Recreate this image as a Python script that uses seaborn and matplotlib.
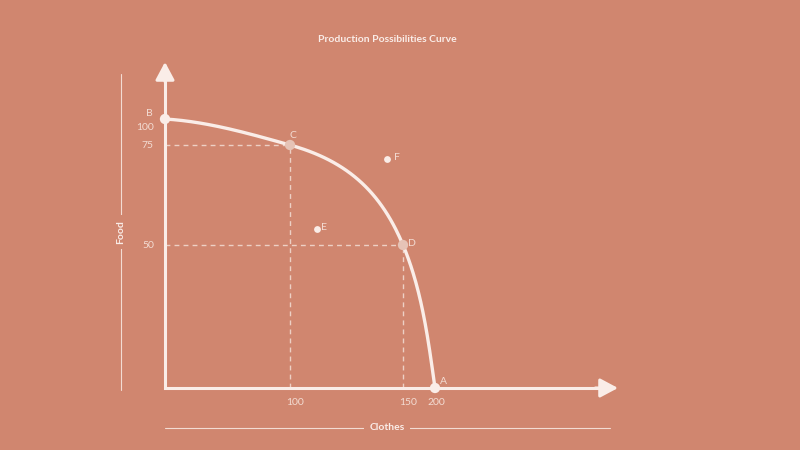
import numpy as np
import pandas as pd
import matplotlib
matplotlib.use("Agg")
import matplotlib.pyplot as plt
from matplotlib.transforms import ScaledTranslation
import seaborn as sns

########## Data ##########

# points on the frontier, from B (all food) to A (all clothes)
curve_names = ["B", "C", "D", "A"]
curve_clothes = [0, 100, 150, 200]
curve_food = [100, 75, 50, 0]

# points off the frontier
extra_names = ["E", "F"]
extra_clothes = [112, 143]
extra_food = [54, 71.5]

x_ticks = [100, 150, 200]
y_ticks = [50, 75, 100]

########## Style ##########

BG = "#D0866F"
INK = "#FAEDE8"
SOFT = "#F3DCD3"
DASH = "#EDD0C5"
MUTED = "#E6C3B6"
FONT = ["Lato", "DejaVu Sans"]

# schematic (non linear) axes: data value -> pixels along the axis
X_KNOTS = [0, 100, 150, 200, 260]
X_PX = [0, 125, 238, 270, 453]
Y_KNOTS = [0, 50, 75, 100, 125]
Y_PX = [0, 143, 243, 269, 326]

def x_fwd(v):
    return np.interp(v, X_KNOTS, X_PX)
def x_inv(v):
    return np.interp(v, X_PX, X_KNOTS)
def y_fwd(v):
    return np.interp(v, Y_KNOTS, Y_PX)
def y_inv(v):
    return np.interp(v, Y_PX, Y_KNOTS)

# tangent directions of the frontier at each point (in pixel space)
TANGENTS = [(1, -0.06), (1, -0.28), (0.42, -1), (0.14, -1)]
TENSION = [1.0, 1.17, 1.0]   # per segment

# smooth the frontier through its points (hermite spline in pixel space)
def smooth_through(xs, ys, tangents, n=60):
    px = x_fwd(np.array(xs, float))
    py = y_fwd(np.array(ys, float))
    out_x, out_y = [], []
    for i in range(len(px) - 1):
        chord = np.hypot(px[i+1] - px[i], py[i+1] - py[i]) * TENSION[i]
        t0 = np.array(tangents[i]) / np.hypot(*tangents[i]) * chord
        t1 = np.array(tangents[i+1]) / np.hypot(*tangents[i+1]) * chord
        s = np.linspace(0, 1, n)
        h00 = 2*s**3 - 3*s**2 + 1
        h10 = s**3 - 2*s**2 + s
        h01 = -2*s**3 + 3*s**2
        h11 = s**3 - s**2
        out_x += list(h00*px[i] + h10*t0[0] + h01*px[i+1] + h11*t1[0])
        out_y += list(h00*py[i] + h10*t0[1] + h01*py[i+1] + h11*t1[1])
    return x_inv(np.array(out_x)), y_inv(np.array(out_y))

########## Plot ##########

sns.set_theme(style="white")
plt.rcParams["font.family"] = FONT

fig = plt.figure(figsize=(8, 4.5), dpi=100, facecolor=BG)
ax = fig.add_axes([165/800, 62/450, 453/800, 326/450])
ax.set_facecolor(BG)
ax.set_xscale("function", functions=(x_fwd, x_inv))
ax.set_yscale("function", functions=(y_fwd, y_inv))
ax.set_xlim(0, 260)
ax.set_ylim(0, 125)
for s in ax.spines.values():
    s.set_visible(False)

# dashed guides to C and D
for cx, cy in zip(curve_clothes[1:3], curve_food[1:3]):
    ax.plot([0, cx], [cy, cy], color=DASH, lw=1.0, dashes=(3.5, 3), zorder=1)
    ax.plot([cx, cx], [0, cy], color=DASH, lw=1.0, dashes=(3.5, 3), zorder=1)

# the frontier
sx, sy = smooth_through(curve_clothes, curve_food, TANGENTS)
frontier = pd.DataFrame({"clothes": sx, "food": sy})
sns.lineplot(data=frontier, x="clothes", y="food", sort=False, estimator=None,
             color=INK, lw=2.4, ax=ax, zorder=3)

# axes: one L shaped line plus two arrow heads
ax.plot([0, 0, 0.97], [0.96, 0, 0], transform=ax.transAxes, color=INK, lw=2.2,
        solid_joinstyle="miter", solid_capstyle="butt", clip_on=False, zorder=4)
head = dict(arrowstyle="-|>,head_length=0.9,head_width=0.48", lw=2.2,
            color=INK, shrinkA=0, shrinkB=0)
ax.annotate("", xy=(1, 0), xytext=(0.95, 0), xycoords="axes fraction",
            arrowprops=head, zorder=4)
ax.annotate("", xy=(0, 1), xytext=(0, 0.94), xycoords="axes fraction",
            arrowprops=head, zorder=4)

# points
pts = pd.DataFrame({"clothes": curve_clothes, "food": curve_food, "name": curve_names})
colors = {"B": INK, "C": MUTED, "D": MUTED, "A": INK}
sns.scatterplot(data=pts, x="clothes", y="food", hue="name", palette=colors,
                s=55, linewidth=0, legend=False, ax=ax, zorder=5, clip_on=False)
extra = pd.DataFrame({"clothes": extra_clothes, "food": extra_food})
sns.scatterplot(data=extra, x="clothes", y="food", color=INK, s=24,
                linewidth=0, legend=False, ax=ax, zorder=5)

label_offsets = {"B": (-16, 5), "C": (3, 9), "D": (9, 1), "A": (8, 6),
                 "E": (7, 1), "F": (10, 1)}
for n, cx, cy in zip(curve_names + extra_names, curve_clothes + extra_clothes,
                     curve_food + extra_food):
    ax.annotate(n, (cx, cy), xytext=label_offsets[n], textcoords="offset pixels",
                ha="center", va="center", color=SOFT, fontsize=7.5, zorder=6)

# tick labels
ax.set_xticks(x_ticks)
ax.set_xticklabels([str(v) for v in x_ticks])
ax.set_yticks(y_ticks)
ax.set_yticklabels([str(v) for v in y_ticks])
ax.tick_params(length=0, labelcolor=SOFT, labelsize=7.5)
ax.tick_params(axis="x", pad=7)
ax.tick_params(axis="y", pad=8)
ax.set_xlabel("")
ax.set_ylabel("")
for lab in ax.get_yticklabels():
    if lab.get_text() == "100":
        lab.set_transform(lab.get_transform() + ScaledTranslation(0, -8/100, fig.dpi_scale_trans))
for lab, dx in zip(ax.get_xticklabels(), [5, 5, 1]):
    lab.set_transform(lab.get_transform() + ScaledTranslation(dx/100, 0, fig.dpi_scale_trans))

# axis titles with rules
fig.add_artist(plt.Line2D([121/800, 121/800], [1 - 390/450, 1 - 74/450],
                          color=SOFT, lw=0.8))
fig.text(121/800, 1 - 232/450, "Food", rotation=90, ha="center", va="center",
         color=INK, fontsize=7.5, fontweight="bold",
         bbox=dict(fc=BG, ec="none", pad=4))
fig.add_artist(plt.Line2D([165/800, 610/800], [1 - 428/450, 1 - 428/450],
                          color=SOFT, lw=0.8))
fig.text(387/800, 1 - 428/450, "Clothes", ha="center", va="center",
         color=INK, fontsize=7.5, fontweight="bold",
         bbox=dict(fc=BG, ec="none", pad=4))

fig.text(387/800, 1 - 40/450, "Production Possibilities Curve", ha="center",
         va="center", color=INK, fontsize=7.5, fontweight="bold")

fig.savefig("out.png", dpi=100, facecolor=BG)
plt.close(fig)
